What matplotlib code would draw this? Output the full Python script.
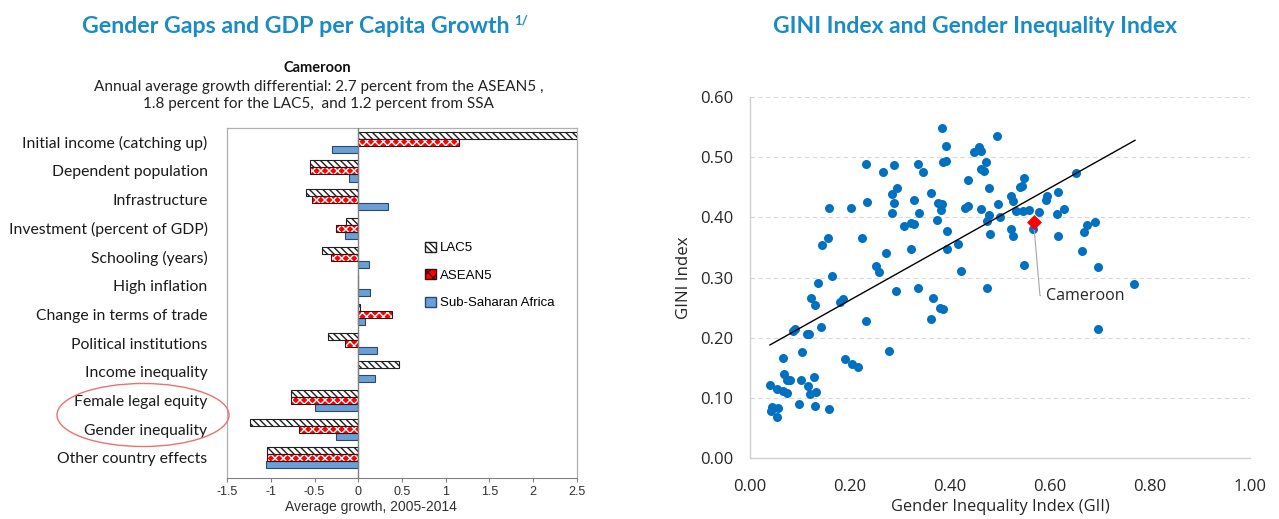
import matplotlib
matplotlib.use('Agg')
import matplotlib.pyplot as plt
from matplotlib.patches import Patch, Ellipse
import numpy as np

# ---- left chart data: growth contributions
categories = ['Initial income (catching up)', 'Dependent population', 'Infrastructure',
              'Investment (percent of GDP)', 'Schooling (years)', 'High inflation',
              'Change in terms of trade', 'Political institutions', 'Income inequality',
              'Female legal equity', 'Gender inequality', 'Other country effects']
lac5 = [2.5, -0.55, -0.60, -0.14, -0.41, 0.0, 0.02, -0.35, 0.47, -0.77, -1.24, -1.04]
asean5 = [1.15, -0.55, -0.53, -0.25, -0.31, 0.0, 0.39, -0.15, 0.0, -0.77, -0.68, -1.04]
ssa = [-0.30, -0.11, 0.34, -0.15, 0.12, 0.14, 0.08, 0.21, 0.19, -0.49, -0.25, -1.05]
series_names = ['LAC5', 'ASEAN5', 'Sub-Saharan Africa']
x_ticks_left = [-1.5, -1, -0.5, 0, 0.5, 1, 1.5, 2, 2.5]

# ---- right chart data: GII vs GINI
gii = [0.384, 0.392, 0.386, 0.392, 0.232, 0.288, 0.336, 0.346, 0.266, 0.294,
       0.284, 0.158, 0.202, 0.234, 0.288, 0.284, 0.328, 0.338, 0.362, 0.376,
       0.384, 0.382, 0.374, 0.308, 0.322, 0.328, 0.156, 0.144, 0.224, 0.394,
       0.272, 0.322, 0.394, 0.252, 0.258, 0.136, 0.164, 0.122, 0.130, 0.180,
       0.186, 0.292, 0.336, 0.366, 0.380, 0.386, 0.362, 0.232, 0.142, 0.086,
       0.090, 0.114, 0.118, 0.278, 0.104, 0.066, 0.190, 0.204, 0.216, 0.068,
       0.074, 0.080, 0.102, 0.128, 0.040, 0.054, 0.066, 0.074, 0.116, 0.132,
       0.120, 0.098, 0.130, 0.158, 0.042, 0.044, 0.056, 0.054, 0.494, 0.448,
       0.458, 0.462, 0.472, 0.462, 0.468, 0.436, 0.548, 0.478, 0.540, 0.544,
       0.652, 0.616, 0.594, 0.592, 0.522, 0.526, 0.496, 0.430, 0.436, 0.462,
       0.478, 0.474, 0.500, 0.532, 0.546, 0.558, 0.578, 0.614, 0.628, 0.566,
       0.674, 0.690, 0.668, 0.522, 0.526, 0.480, 0.616, 0.416, 0.664, 0.548,
       0.696, 0.422, 0.474, 0.768, 0.696]
gini = [0.548, 0.519, 0.492, 0.494, 0.489, 0.487, 0.488, 0.476, 0.475, 0.449,
        0.439, 0.416, 0.416, 0.425, 0.424, 0.407, 0.429, 0.407, 0.440, 0.424,
        0.422, 0.412, 0.396, 0.386, 0.390, 0.389, 0.366, 0.354, 0.365, 0.377,
        0.341, 0.347, 0.347, 0.319, 0.309, 0.291, 0.302, 0.266, 0.254, 0.260,
        0.264, 0.277, 0.282, 0.266, 0.249, 0.248, 0.231, 0.228, 0.218, 0.211,
        0.214, 0.206, 0.206, 0.178, 0.176, 0.166, 0.165, 0.156, 0.151, 0.140,
        0.130, 0.130, 0.130, 0.135, 0.121, 0.115, 0.111, 0.108, 0.120, 0.110,
        0.106, 0.090, 0.086, 0.081, 0.078, 0.085, 0.083, 0.068, 0.535, 0.509,
        0.517, 0.510, 0.492, 0.480, 0.477, 0.462, 0.465, 0.449, 0.450, 0.452,
        0.474, 0.442, 0.435, 0.429, 0.435, 0.427, 0.422, 0.416, 0.419, 0.414,
        0.404, 0.394, 0.401, 0.411, 0.411, 0.412, 0.409, 0.406, 0.414, 0.381,
        0.387, 0.392, 0.376, 0.381, 0.369, 0.372, 0.369, 0.356, 0.344, 0.321,
        0.317, 0.310, 0.282, 0.289, 0.214]
cameroon_gii = 0.568
cameroon_gini = 0.392
trend_x = [0.04, 0.77]
trend_y = [0.188, 0.528]

title_blue = '#1B8BC3'

fig = plt.figure(figsize=(12.79, 5.19), dpi=100)

# ================= left chart =================
ax1 = fig.add_axes([0.1775, 0.079, 0.2736, 0.6745])
y = np.arange(len(categories))
h = 0.245
ax1.barh(y - h, lac5, height=h, color='white', edgecolor='#202020', hatch='\\\\\\\\\\',
         linewidth=0.8, zorder=3)
# red bars with white cross pattern, then dark outline on top
ax1.barh(y, asean5, height=h, color='#FF0000', edgecolor='white', hatch='xxxx',
         linewidth=0, zorder=3)
ax1.barh(y, asean5, height=h, color='none', edgecolor='#3a1010', linewidth=0.8, zorder=4)
ax1.barh(y + h, ssa, height=h, color='#6C9FD6', edgecolor='#2B4A6B', linewidth=0.8, zorder=3)

ax1.set_ylim(11.7, -0.5)
ax1.set_xlim(-1.5, 2.5)
ax1.set_yticks(y)
ax1.set_yticklabels(categories, family='Lato', fontsize=11.3, color='#1a1a1a')
ax1.tick_params(axis='y', length=0, pad=14)
ax1.set_xticks(x_ticks_left)
ax1.set_xticklabels([f'{v:g}' for v in x_ticks_left], family='Liberation Sans',
                    fontsize=9, color='#303030')
ax1.tick_params(axis='x', direction='out', length=3, color='#808080', pad=3)
ax1.axvline(0, color='#808080', lw=1.0, zorder=5)
for s in ['top', 'left', 'right']:
    ax1.spines[s].set_color('#B0B0B0')
    ax1.spines[s].set_linewidth(0.9)
ax1.spines['bottom'].set_color('#808080')
ax1.set_xlabel('Average growth, 2005-2014', family='Liberation Sans', fontsize=10,
               color='#303030')
ax1.xaxis.set_label_coords(0.41, -0.063)

handles = [Patch(facecolor='white', edgecolor='#202020', hatch='\\\\\\\\\\'),
           Patch(facecolor='#FF0000', edgecolor='#3a1010', hatch='xxx'),
           Patch(facecolor='#6C9FD6', edgecolor='#2B4A6B')]
fig.legend(handles, series_names, loc='upper left', bbox_to_anchor=(0.323, 0.557),
           frameon=False, prop={'family': 'Liberation Sans', 'size': 9.5},
           handlelength=0.8, handleheight=0.8, handletextpad=0.3, labelspacing=1.12)

fig.add_artist(Ellipse((0.1118, 0.2004), 0.1345, 0.1214, transform=fig.transFigure,
                       facecolor='none', edgecolor='#EE7070', lw=1.0))

t1 = fig.text(0.231, 0.949, 'Gender Gaps and GDP per Capita Growth', family='Lato',
              fontweight='bold', fontsize=16.7, color=title_blue, ha='center', va='center')
fig.text(0.248, 0.869, 'Cameroon', family='Lato', fontweight='bold', fontsize=10.5,
         color='#111111', ha='center', va='center')
fig.text(0.249, 0.816, 'Annual average growth differential: 2.7 percent from the ASEAN5 ,\n'
         '1.8 percent for the LAC5,  and 1.2 percent from SSA', family='Lato',
         fontsize=11, color='#222222', ha='center', va='center', linespacing=1.2)

# ================= right chart =================
ax2 = fig.add_axes([0.5864, 0.1175, 0.3909, 0.6956])
ax2.scatter(gii, gini, s=42, color='#0070C0', zorder=3, linewidths=0)
ax2.plot(trend_x, trend_y, color='black', lw=1.0, zorder=4)
ax2.scatter([cameroon_gii], [cameroon_gini], marker='D', s=58, color='#FF0000', zorder=5,
            linewidths=0)
ax2.annotate('Cameroon', xy=(cameroon_gii, cameroon_gini - 0.008), xytext=(0.592, 0.270),
             family='Open Sans', fontsize=11.5, color='#262626', va='center', ha='left',
             arrowprops=dict(arrowstyle='-', color='#A6A6A6', lw=0.8, shrinkA=2, shrinkB=0,
                             connectionstyle='angle,angleA=0,angleB=95,rad=0'))

ax2.set_xlim(0, 1.0)
ax2.set_ylim(0, 0.6)
ax2.set_xticks(np.arange(0, 1.01, 0.2))
ax2.set_yticks(np.arange(0, 0.61, 0.1))
ax2.set_xticklabels([f'{v:.2f}' for v in np.arange(0, 1.01, 0.2)])
ax2.set_yticklabels([f'{v:.2f}' for v in np.arange(0, 0.61, 0.1)])
for lbl in ax2.get_xticklabels() + ax2.get_yticklabels():
    lbl.set_family('Open Sans')
    lbl.set_fontsize(12)
    lbl.set_color('#262626')
ax2.tick_params(length=0)
ax2.tick_params(axis='x', pad=15)
ax2.tick_params(axis='y', pad=12)
ax2.grid(axis='y', color='#D9D9D9', linestyle=(0, (4, 3)), lw=0.8, zorder=0)
ax2.set_axisbelow(True)
for s in ['top', 'right']:
    ax2.spines[s].set_visible(False)
for s in ['left', 'bottom']:
    ax2.spines[s].set_color('#D0D0D0')
    ax2.spines[s].set_linewidth(1.0)
ax2.set_xlabel('Gender Inequality Index (GII)', family='Open Sans', fontsize=11.8,
               color='#262626', labelpad=3)
ax2.set_ylabel('GINI Index', family='Open Sans', fontsize=12.2, color='#262626', labelpad=6)

fig.text(0.7625, 0.949, 'GINI Index and Gender Inequality Index', family='Lato',
         fontweight='bold', fontsize=16.5, color=title_blue, ha='center', va='center')

# superscript footnote marker after the left title
fig.canvas.draw()
bb = t1.get_window_extent(renderer=fig.canvas.get_renderer())
fig.text(bb.x1 / fig.bbox.width + 0.004, bb.y1 / fig.bbox.height + 0.002, '1/',
         family='Lato', fontweight='bold', fontsize=9.5, color=title_blue, ha='left', va='top')

fig.savefig('out.png', dpi=100)
